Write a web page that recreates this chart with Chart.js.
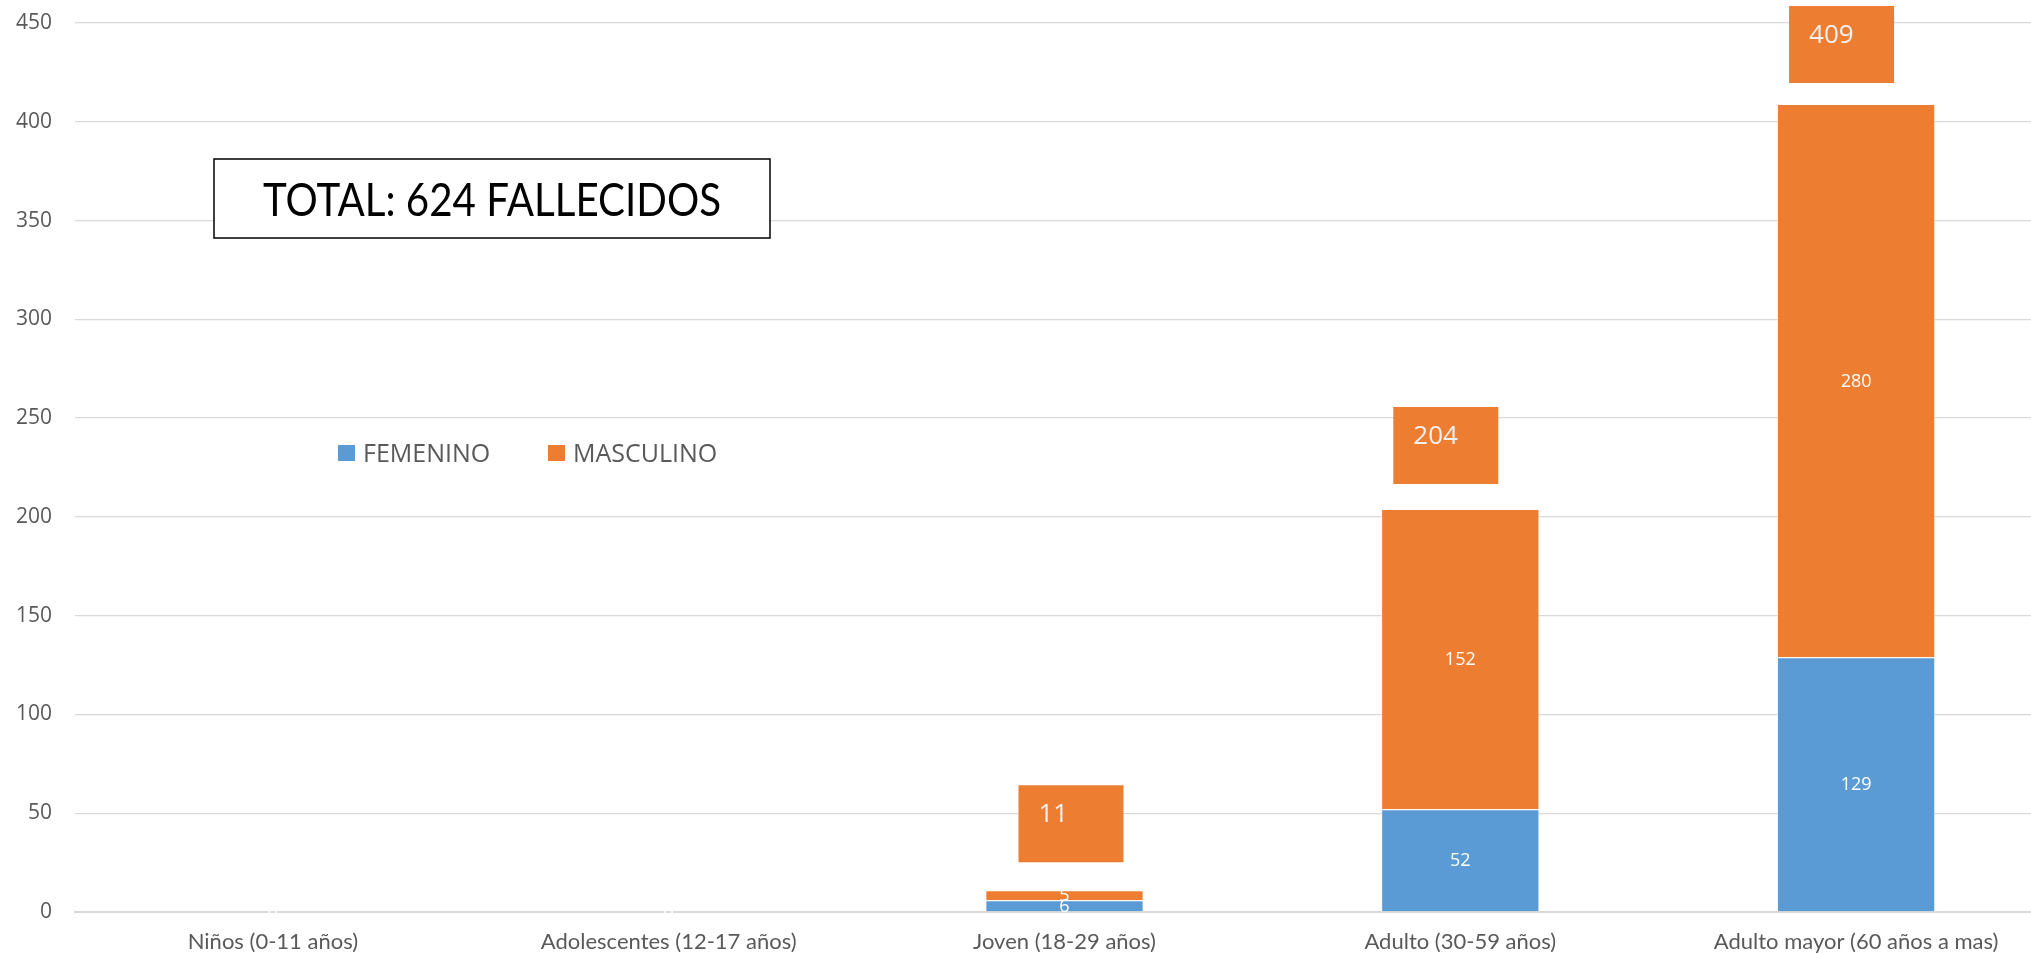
<!DOCTYPE html>
<html lang="es">
<head>
<meta charset="utf-8">
<title>Fallecidos por grupo de edad y sexo</title>
<script src="https://cdn.jsdelivr.net/npm/chart.js@4.4.1/dist/chart.umd.min.js"></script>
<style>
  html, body { margin: 0; padding: 0; background: #ffffff; overflow: hidden; }
  #wrap { width: 2054px; height: 954px; }
  canvas { display: block; }
</style>
</head>
<body>
<div id="wrap"><canvas id="chart" width="2054" height="954"></canvas></div>
<script>
// Age groups along the horizontal axis
const categories = [
  'Niños (0-11 años)',
  'Adolescentes (12-17 años)',
  'Joven (18-29 años)',
  'Adulto (30-59 años)',
  'Adulto mayor (60 años a mas)'
];
// Deaths by sex for each age group
const femenino = [0, 0, 6, 52, 129];
const masculino = [0, 0, 5, 152, 280];
// Vertical axis range and tick step
const yMin = 0;
const yMax = 450;
const yStep = 50;
// Headline text and legend names
const headline = 'TOTAL: 624 FALLECIDOS';
const seriesNames = ['FEMENINO', 'MASCULINO'];

const BLUE = '#5B9BD5';
const ORANGE = '#ED7D31';
const GREY_TEXT = '#595959';
const GRID = '#D9D9D9';
const CALIBRI_LIKE = 'Lato, "Open Sans", sans-serif';
const SEGOE_LIKE = '"Open Sans", "Noto Sans", sans-serif';

// Stack totals shown in the boxes above each bar
const totals = categories.map((_, i) => femenino[i] + masculino[i]);

const overlayPlugin = {
  id: 'overlay',
  afterDatasetsDraw(chart, args, opts) {
    const ctx = chart.ctx;
    const area = chart.chartArea;
    ctx.save();

    // Values inside each bar segment
    ctx.fillStyle = '#FFFFFF';
    ctx.font = '18px ' + SEGOE_LIKE;
    ctx.textAlign = 'center';
    ctx.textBaseline = 'middle';
    chart.data.datasets.forEach((ds, di) => {
      const meta = chart.getDatasetMeta(di);
      meta.data.forEach((bar, i) => {
        const cy = (bar.y + bar.base) / 2;
        ctx.fillText(String(ds.data[i]), bar.x, cy + 1);
      });
    });

    // Stack totals in orange boxes above the bars
    const top = chart.getDatasetMeta(1);
    const shifts = opts.totalShift;
    top.data.forEach((bar, i) => {
      if (!totals[i]) return;
      const s = shifts[i] || { dx: 0, dy: 0 };
      const w = 105, h = 77;
      const left = bar.x - 67 + s.dx;
      const bottom = bar.y - 24 + s.dy;
      ctx.fillStyle = ORANGE;
      ctx.fillRect(left, bottom - h, w, h);
      ctx.fillStyle = '#F2F2F2';
      ctx.font = '26px ' + SEGOE_LIKE;
      ctx.textAlign = 'left';
      ctx.textBaseline = 'alphabetic';
      ctx.fillText(String(totals[i]), left + 20, bottom - h + 37);
    });

    // Legend
    ctx.font = '25px ' + SEGOE_LIKE;
    ctx.textAlign = 'left';
    ctx.textBaseline = 'alphabetic';
    const legY = 445;
    const legItems = [
      { x: 338, color: BLUE, text: seriesNames[0] },
      { x: 548, color: ORANGE, text: seriesNames[1] }
    ];
    legItems.forEach(it => {
      ctx.fillStyle = it.color;
      ctx.fillRect(it.x, legY, 17, 16);
      ctx.fillStyle = GREY_TEXT;
      ctx.fillText(it.text, it.x + 25, legY + 17);
    });

    // Headline box
    const bx = area.left + 139, by = 159, bw = 556, bh = 79;
    ctx.fillStyle = '#FFFFFF';
    ctx.fillRect(bx, by, bw, bh);
    ctx.strokeStyle = '#000000';
    ctx.lineWidth = 1.5;
    ctx.strokeRect(bx, by, bw, bh);
    ctx.fillStyle = '#000000';
    ctx.font = '46px ' + CALIBRI_LIKE;
    ctx.textAlign = 'center';
    const natural = ctx.measureText(headline).width;
    const sx = Math.min(1, 458 / natural);
    ctx.translate(bx + bw / 2, by + bh / 2 + 17);
    ctx.scale(sx, 1);
    ctx.fillText(headline, 0, 0);

    ctx.restore();
  }
};

new Chart(document.getElementById('chart'), {
  type: 'bar',
  data: {
    labels: categories,
    datasets: [
      { label: seriesNames[0], data: femenino, backgroundColor: BLUE,
        borderColor: 'rgba(255,255,255,0.35)', borderWidth: 1 },
      { label: seriesNames[1], data: masculino, backgroundColor: ORANGE,
        borderColor: 'rgba(255,255,255,0.35)', borderWidth: 1 }
    ]
  },
  options: {
    responsive: false,
    animation: false,
    devicePixelRatio: 1,
    barPercentage: 0.4,
    categoryPercentage: 1,
    layout: { padding: { top: 23, left: 0, right: 0, bottom: 0 } },
    plugins: {
      legend: { display: false },
      tooltip: { enabled: false },
      overlay: {
        totalShift: [null, null, { dx: 21, dy: -4 }, { dx: 0, dy: -1 }, { dx: 0, dy: 3 }]
      }
    },
    scales: {
      x: {
        stacked: true,
        grid: { display: false },
        border: { color: GRID, width: 2 },
        ticks: {
          color: GREY_TEXT,
          font: { family: CALIBRI_LIKE, size: 22 },
          padding: 9,
          maxRotation: 0,
          autoSkip: false
        },
        afterFit(scale) {
          scale.height = 42;
          scale.paddingLeft = 0;
          scale.paddingRight = 0;
        }
      },
      y: {
        stacked: true,
        min: yMin,
        max: yMax,
        grid: { color: GRID, lineWidth: 1.3, drawTicks: false },
        border: { display: false },
        ticks: {
          stepSize: yStep,
          color: GREY_TEXT,
          font: { family: SEGOE_LIKE, size: 21 },
          padding: 23
        },
        afterFit(scale) {
          scale.width = 75;
          scale.paddingTop = 0;
          scale.paddingBottom = 0;
        }
      }
    }
  },
  plugins: [overlayPlugin]
});
</script>
</body>
</html>
